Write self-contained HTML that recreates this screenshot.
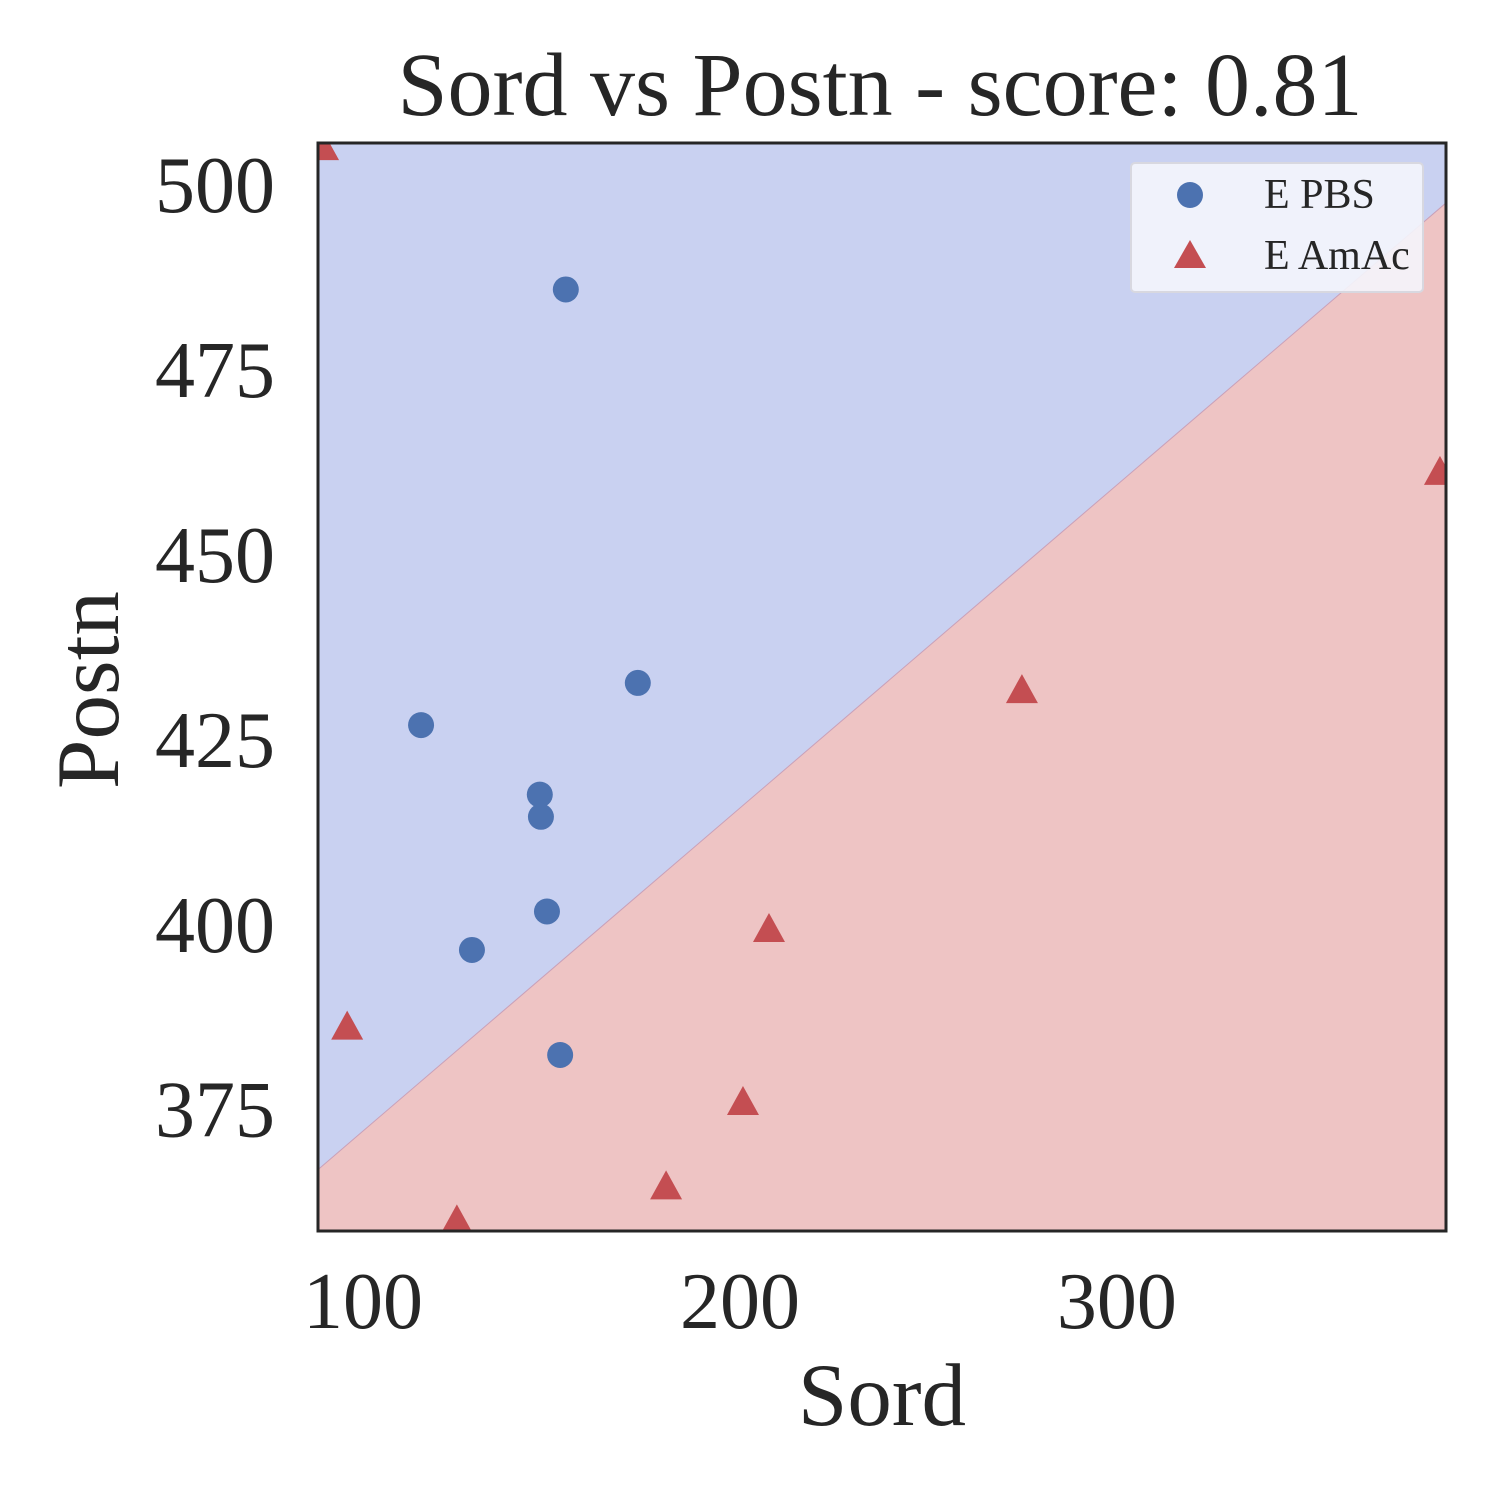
<!DOCTYPE html>
<html><head><meta charset="utf-8"><style>
html,body{margin:0;padding:0;background:#fff;width:1500px;height:1500px;overflow:hidden}
text{font-family:"Liberation Serif","DejaVu Serif",serif;fill:#262626}
</style></head><body>
<svg id="chart" width="1500" height="1500" xmlns="http://www.w3.org/2000/svg"></svg>
<script>
const xTicks=[100,200,300];
const yTicks=[375,400,425,450,475,500];
const pbsX=[153.8,172.9,115.4,146.9,147.2,148.8,128.9,152.3];
const pbsY=[485.9,432.7,427.0,417.6,414.6,401.8,396.6,382.4];
const amacX=[89.4,95.8,124.9,180.4,200.8,207.7,274.8,385.7];
const amacY=[505.0,386.1,359.9,364.5,375.9,399.3,431.6,461.1];
const boundaryX=[88.06,387.3];
const boundaryY=[366.9,497.6];
const xDomain=[88.06,387.3], yDomain=[358.6,505.7];

const L=318,R=1446,T=143,B=1231;
const sx=v=>L+(v-xDomain[0])/(xDomain[1]-xDomain[0])*(R-L);
const sy=v=>B-(v-yDomain[0])/(yDomain[1]-yDomain[0])*(B-T);
const svg=document.getElementById('chart');
const NS='http://www.w3.org/2000/svg';
function mk(tag,attrs,parent){const e=document.createElementNS(NS,tag);for(const k in attrs)e.setAttribute(k,attrs[k]);(parent||svg).appendChild(e);return e;}

const defs=mk('defs',{});
const cp=mk('clipPath',{id:'clip'},defs);mk('rect',{x:L,y:T,width:R-L,height:B-T},cp);
const g=mk('g',{'clip-path':'url(#clip)'});

const bg=mk('rect',{x:L,y:T,width:R-L,height:B-T,fill:'#c9d1f1'},g);


const x0=sx(boundaryX[0]),y0=sy(boundaryY[0]),x1=sx(boundaryX[1]),y1=sy(boundaryY[1]);
const red=mk('polygon',{points:`${x0},${y0} ${x1},${y1} ${x1},${B} ${x0},${B}`,fill:'#eec4c4'},g);


mk('line',{x1:x0,y1:y0,x2:x1,y2:y1,stroke:'#c9a0b8','stroke-width':1},g);

pbsX.forEach((v,i)=>{
  const c=mk('circle',{cx:sx(v),cy:sy(pbsY[i]),r:13,fill:'#4c72b0'},g);
  
  
});
amacX.forEach((v,i)=>{
  const cx=sx(v),cy=sy(amacY[i]);
  const t=mk('polygon',{points:`${cx},${cy-17} ${cx+16},${cy+12} ${cx-16},${cy+12}`,fill:'#c44e52'},g);
  
  
});

mk('rect',{x:L,y:T,width:R-L,height:B-T,fill:'none',stroke:'#262626','stroke-width':3});

xTicks.forEach(v=>{
  const t=mk('text',{x:sx(v),y:1328,'font-size':80,'text-anchor':'middle'});t.textContent=v;
  
  
});
yTicks.forEach(v=>{
  const t=mk('text',{x:275,y:sy(v)+27,'font-size':80,'text-anchor':'end'});t.textContent=v;
  
  
});

const title=mk('text',{x:880,y:115,'font-size':90,'text-anchor':'middle'});title.textContent='Sord vs Postn - score: 0.81';


const xl=mk('text',{x:882,y:1425,'font-size':89,'text-anchor':'middle'});xl.textContent='Sord';


const yl=mk('text',{x:0,y:0,'font-size':89,'text-anchor':'middle',transform:'translate(118,690) rotate(-90)'});yl.textContent='Postn';



const lg=mk('g',{});


mk('rect',{x:1131,y:163,width:292,height:129,rx:4,fill:'#f4f5fc','fill-opacity':0.9,stroke:'#d8d8e0','stroke-width':2},lg);
mk('circle',{cx:1190,cy:195,r:13,fill:'#4c72b0'},lg);
const l1=mk('text',{x:1264,y:208,'font-size':42},lg);l1.textContent='E PBS';


mk('polygon',{points:'1190,240 1206,268 1174,268',fill:'#c44e52'},lg);
const l2=mk('text',{x:1264,y:269,'font-size':42},lg);l2.textContent='E AmAc';


</script>
</body></html>
